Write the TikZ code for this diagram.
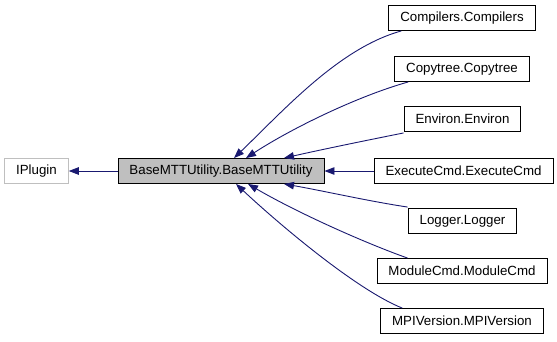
\documentclass[tikz,border=0pt]{standalone}
\usepackage{fontspec}
\setmainfont{Liberation Sans}
\usetikzlibrary{arrows.meta,positioning}

\definecolor{edgeblue}{HTML}{191970}
\definecolor{basegray}{HTML}{BFBFBF}

\tikzset{
  classbox/.style={draw=black, line width=0.9pt, fill=white, inner xsep=11.5pt,
    inner ysep=0pt, minimum height=25pt, font=\fontsize{13.3}{15}\selectfont},
  basebox/.style={classbox, fill=basegray},
  extbox/.style={classbox, draw=basegray},
  inherit/.style={draw=edgeblue, line width=0.9pt,
    -{Triangle[length=10pt,width=7.5pt,fill=edgeblue]}}
}

\begin{document}
\begin{tikzpicture}[x=1pt,y=-1pt]
  \useasboundingbox (0,0) rectangle (557,341); %Fix picture size

  \node[extbox]  (iplugin) at (36.5,171) {IPlugin};                       %External base class
  \node[basebox] (base)    at (221,171)  {BaseMTTUtility.BaseMTTUtility}; %Plugin base class

  \node[classbox] (compilers)  at (462,18)  {Compilers.Compilers};   %Derived class 1
  \node[classbox] (copytree)   at (462,69)  {Copytree.Copytree};     %Derived class 2
  \node[classbox] (environ)    at (462.5,119) {Environ.Environ};     %Derived class 3
  \node[classbox] (executecmd) at (463.5,171) {ExecuteCmd.ExecuteCmd}; %Derived class 4
  \node[classbox] (logger)     at (462.5,221) {Logger.Logger};       %Derived class 5
  \node[classbox] (modulecmd)  at (462,271) {ModuleCmd.ModuleCmd};   %Derived class 6
  \node[classbox] (mpiversion) at (462,321) {MPIVersion.MPIVersion}; %Derived class 7

  \draw[inherit] (base) -- (iplugin); %Base inherits IPlugin

  \draw[inherit] ([xshift=13pt]compilers.south west)
    .. controls +(-62,17) and +(50,-48) .. ([xshift=13pt]base.north);   %Compilers edge
  \draw[inherit] ([xshift=14pt]copytree.south west)
    .. controls +(-50,14) and +(46,-30) .. ([xshift=25pt]base.north);   %Copytree edge
  \draw[inherit] ([yshift=-1pt]environ.south west)
    .. controls +(-40,8) and +(40,-9) .. ([xshift=63pt]base.north);     %Environ edge
  \draw[inherit] (executecmd) -- (base);                                %ExecuteCmd edge
  \draw[inherit] ([yshift=1pt]logger.north west)
    .. controls +(-40,-6) and +(40,7) .. ([xshift=63pt]base.south);     %Logger edge
  \draw[inherit] ([xshift=31pt]modulecmd.north west)
    .. controls +(-45,-16) and +(48,28) .. ([xshift=27pt]base.south);   %ModuleCmd edge
  \draw[inherit] ([xshift=22pt]mpiversion.north west)
    .. controls +(-45,-18) and +(45,42) .. ([xshift=15pt]base.south);   %MPIVersion edge
\end{tikzpicture}
\end{document}
